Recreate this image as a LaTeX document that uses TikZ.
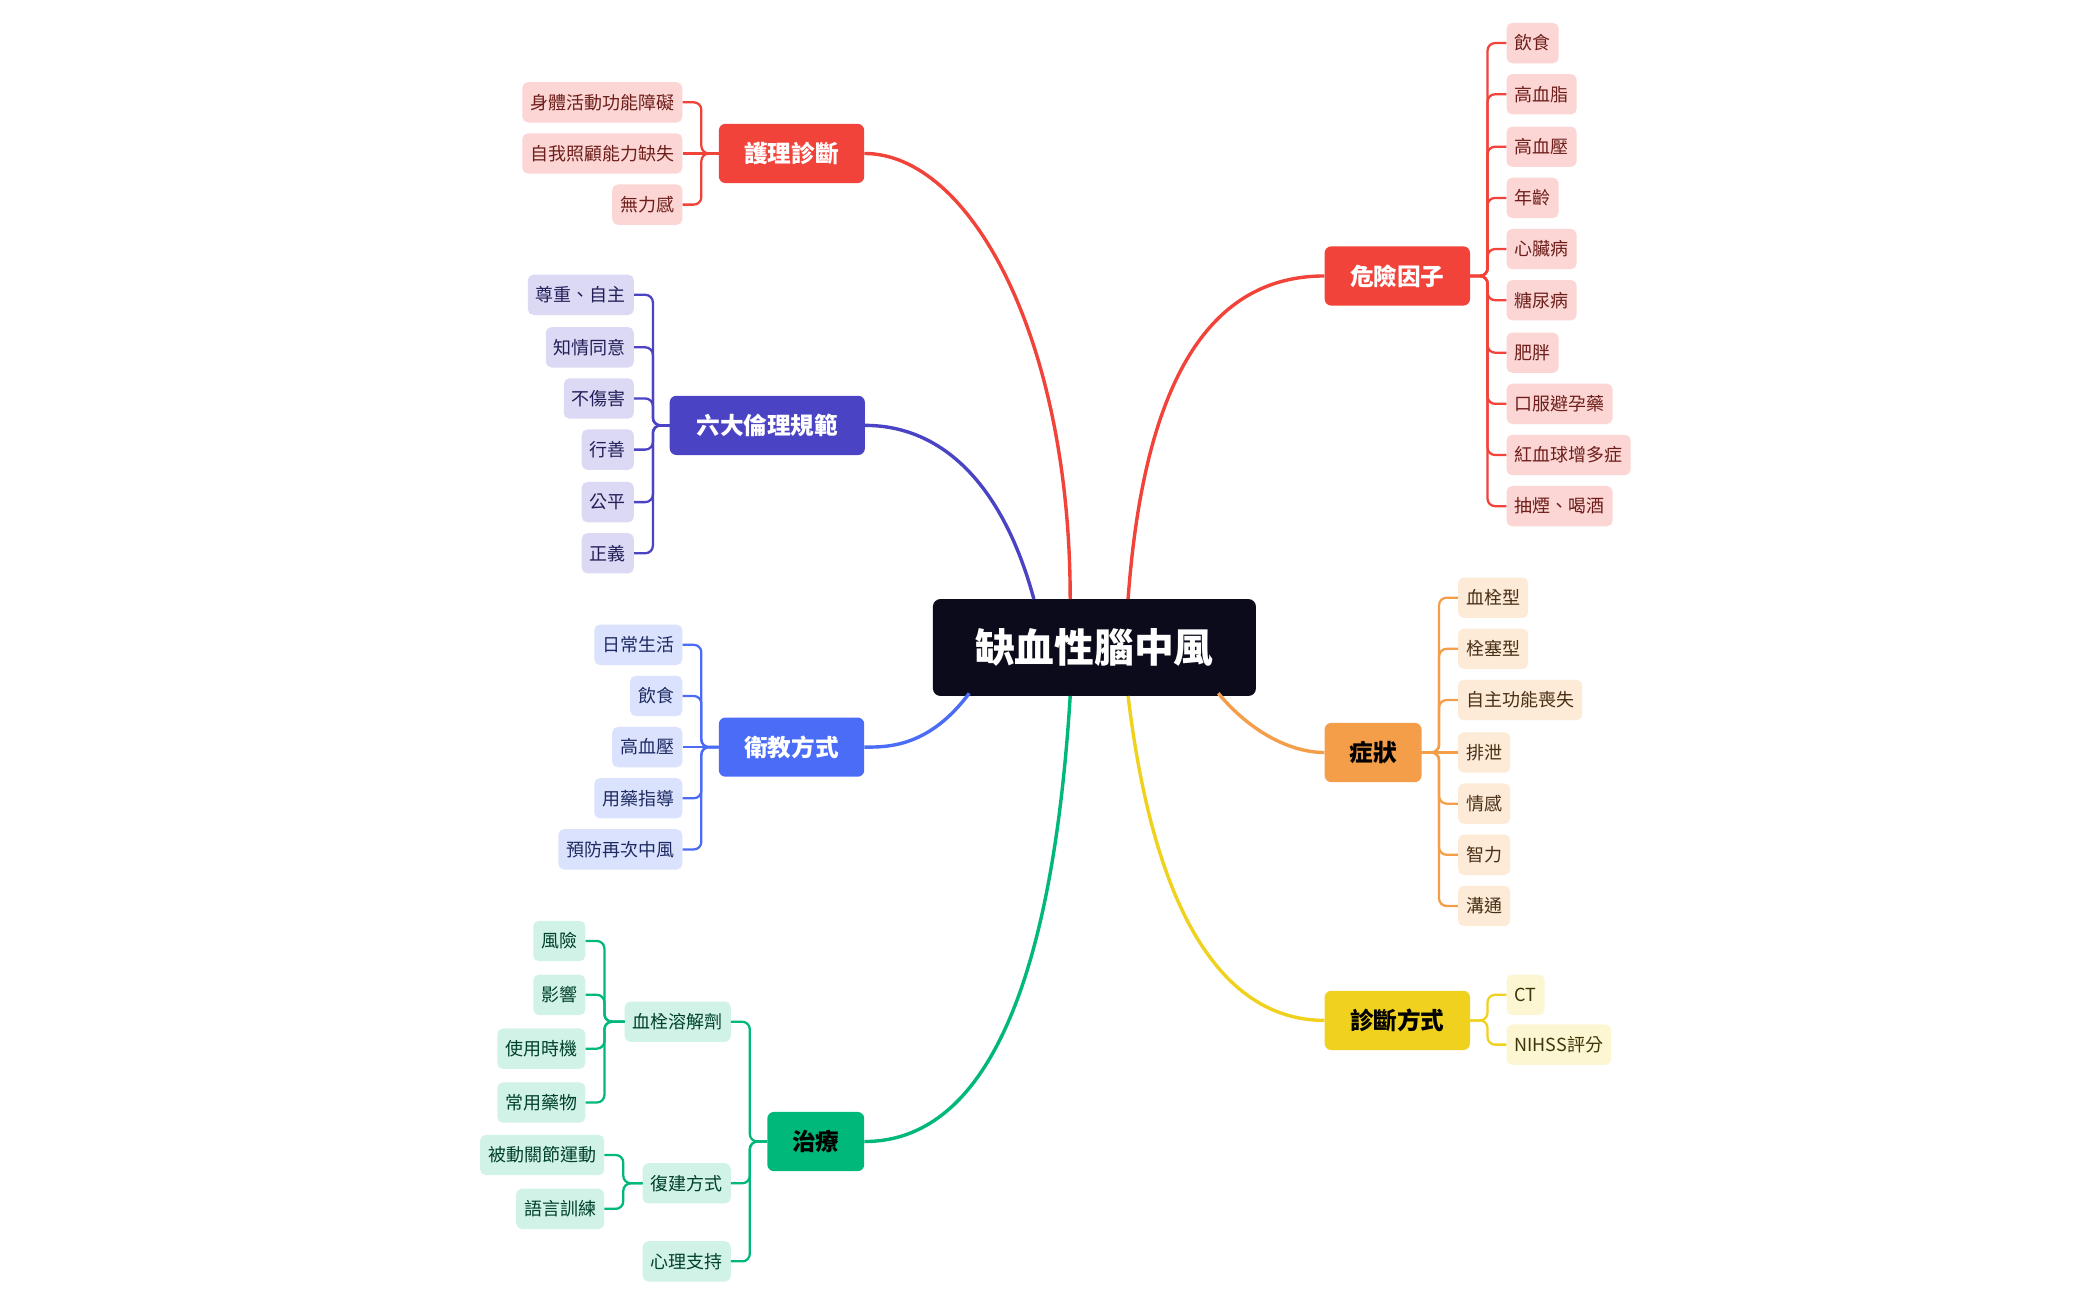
\documentclass[tikz,border=0pt]{standalone}
\usepackage{fontspec}
\newfontfamily\cjk{Noto Sans CJK TC}
\definecolor{cred}{HTML}{F2433A}
\definecolor{cind}{HTML}{4A43C4}
\definecolor{cblu}{HTML}{4A6CF7}
\definecolor{cgrn}{HTML}{00B87A}
\definecolor{cora}{HTML}{F59E4A}
\definecolor{cyel}{HTML}{F0D21E}
\definecolor{croot}{HTML}{0B0B1C}
\tikzset{
  leaf/.style={rounded corners=6pt, minimum height=1.5cm, inner xsep=0.3cm, font=\cjk\fontsize{19}{19}\selectfont},
  branch/.style={rounded corners=7pt, minimum height=2.2cm, inner xsep=0.45cm, font=\cjk\bfseries\fontsize{25}{25}\selectfont, text=white},
  link/.style={line width=2.4pt, rounded corners=8pt},
  bigl/.style={line width=3.6pt},
}
\begin{document}
\begin{tikzpicture}[x=0.05cm,y=-0.05cm]
\useasboundingbox (0,0) rectangle (1560,965);
\fill[white] (0,0) rectangle (1560,965);

\node[fill=croot, text=white, rounded corners=8pt, minimum width=12cm, minimum height=3.6cm,
  font=\cjk\bfseries\fontsize{42}{42}\selectfont] (root) at (813,481) {缺血性腦中風};
\coordinate (rt1) at (795,445);
\coordinate (rt2) at (768,445);
\coordinate (rt3) at (838,445);
\coordinate (rb1) at (720,515);
\coordinate (rb2) at (795,517);
\coordinate (rb3) at (905,515);
\coordinate (rb4) at (838,517);

% branches
\node[branch, fill=cred, minimum width=5.4cm] (nurse) at (588,114) {護理診斷};
\node[branch, fill=cind, minimum width=7.25cm] (ethic) at (570,316) {六大倫理規範};
\node[branch, fill=cblu, minimum width=5.4cm] (educ) at (588,555) {衛教方式};
\node[branch, fill=cgrn, text=black, minimum width=3.6cm] (treat) at (606,848) {治療};
\node[branch, fill=cred, minimum width=5.4cm] (risk) at (1038,205) {危險因子};
\node[branch, fill=cora, text=black, minimum width=3.6cm] (sympt) at (1020,559) {症狀};
\node[branch, fill=cyel, text=black, minimum width=5.4cm] (diag) at (1038,758) {診斷方式};

\draw[bigl, cred] (rt1) .. controls (795,250) and (720,114) .. (nurse.east);
\draw[bigl, cind] (rt2) .. controls (745,360) and (700,316) .. (ethic.east);
\draw[bigl, cblu] (rb1) .. controls (690,555) and (660,555) .. (educ.east);
\draw[bigl, cgrn] (rb2) .. controls (780,760) and (720,848) .. (treat.east);
\draw[bigl, cred] (rt3) .. controls (850,280) and (900,205) .. (risk.west);
\draw[bigl, cora] (rb3) .. controls (930,545) and (960,559) .. (sympt.west);
\draw[bigl, cyel] (rb4) .. controls (860,700) and (920,758) .. (diag.west);

% nursing diagnoses
\tikzset{lr/.style={leaf, fill=cred!22, text=cred!45!black, anchor=east}}
\node[lr] (n1) at (507,76) {身體活動功能障礙};
\node[lr] (n2) at (507,114) {自我照顧能力缺失};
\node[lr] (n3) at (507,152) {無力感};
\draw[link, cred] (nurse.west) -- (521,114) |- (n1.east);
\draw[link, cred] (nurse.west) -- (n2.east);
\draw[link, cred] (nurse.west) -- (521,114) |- (n3.east);

% ethics
\tikzset{li/.style={leaf, fill=cind!20, text=cind!45!black, anchor=east}}
\node[li] (e1) at (471,219) {尊重、自主};
\node[li] (e2) at (471,258) {知情同意};
\node[li] (e3) at (471,296) {不傷害};
\node[li] (e4) at (471,334) {行善};
\node[li] (e5) at (471,373) {公平};
\node[li] (e6) at (471,411) {正義};
\draw[link, cind] (ethic.west) -- (485,316) |- (e1.east);
\draw[link, cind] (ethic.west) -- (485,316) |- (e2.east);
\draw[link, cind] (ethic.west) -- (485,316) |- (e3.east);
\draw[link, cind] (ethic.west) -- (485,316) |- (e4.east);
\draw[link, cind] (ethic.west) -- (485,316) |- (e5.east);
\draw[link, cind] (ethic.west) -- (485,316) |- (e6.east);

% education
\tikzset{lb/.style={leaf, fill=cblu!20, text=cblu!40!black, anchor=east}}
\node[lb] (d1) at (507,479) {日常生活};
\node[lb] (d2) at (507,517) {飲食};
\node[lb] (d3) at (507,555) {高血壓};
\node[lb] (d4) at (507,593) {用藥指導};
\node[lb] (d5) at (507,631) {預防再次中風};
\draw[link, cblu] (educ.west) -- (521,555) |- (d1.east);
\draw[link, cblu] (educ.west) -- (521,555) |- (d2.east);
\draw[link, cblu] (educ.west) -- (d3.east);
\draw[link, cblu] (educ.west) -- (521,555) |- (d4.east);
\draw[link, cblu] (educ.west) -- (521,555) |- (d5.east);

% treatment
\tikzset{lg/.style={leaf, fill=cgrn!18, text=cgrn!35!black, anchor=east}}
\node[lg] (t1) at (543,759) {血栓溶解劑};
\node[lg] (t2) at (543,879) {復建方式};
\node[lg] (t3) at (543,937) {心理支持};
\draw[link, cgrn] (treat.west) -- (557,848) |- (t1.east);
\draw[link, cgrn] (treat.west) -- (557,848) |- (t2.east);
\draw[link, cgrn] (treat.west) -- (557,848) |- (t3.east);
\node[lg] (t11) at (435,699) {風險};
\node[lg] (t12) at (435,739) {影響};
\node[lg] (t13) at (435,779) {使用時機};
\node[lg] (t14) at (435,819) {常用藥物};
\draw[link, cgrn] (t1.west) -- (449,759) |- (t11.east);
\draw[link, cgrn] (t1.west) -- (449,759) |- (t12.east);
\draw[link, cgrn] (t1.west) -- (449,759) |- (t13.east);
\draw[link, cgrn] (t1.west) -- (449,759) |- (t14.east);
\node[lg] (t21) at (449,858) {被動關節運動};
\node[lg] (t22) at (449,898) {語言訓練};
\draw[link, cgrn] (t2.west) -- (463,879) |- (t21.east);
\draw[link, cgrn] (t2.west) -- (463,879) |- (t22.east);

% risk factors
\tikzset{lr2/.style={leaf, fill=cred!22, text=cred!45!black, anchor=west}}
\node[lr2] (r1) at (1119,32) {飲食};
\node[lr2] (r2) at (1119,70) {高血脂};
\node[lr2] (r3) at (1119,109) {高血壓};
\node[lr2] (r4) at (1119,147) {年齡};
\node[lr2] (r5) at (1119,185) {心臟病};
\node[lr2] (r6) at (1119,223) {糖尿病};
\node[lr2] (r7) at (1119,262) {肥胖};
\node[lr2] (r8) at (1119,300) {口服避孕藥};
\node[lr2] (r9) at (1119,338) {紅血球增多症};
\node[lr2] (r10) at (1119,376) {抽煙、喝酒};
\draw[link, cred] (risk.east) -- (1105,205) |- (r1.west);
\draw[link, cred] (risk.east) -- (1105,205) |- (r2.west);
\draw[link, cred] (risk.east) -- (1105,205) |- (r3.west);
\draw[link, cred] (risk.east) -- (1105,205) |- (r4.west);
\draw[link, cred] (risk.east) -- (1105,205) |- (r5.west);
\draw[link, cred] (risk.east) -- (1105,205) |- (r6.west);
\draw[link, cred] (risk.east) -- (1105,205) |- (r7.west);
\draw[link, cred] (risk.east) -- (1105,205) |- (r8.west);
\draw[link, cred] (risk.east) -- (1105,205) |- (r9.west);
\draw[link, cred] (risk.east) -- (1105,205) |- (r10.west);

% symptoms
\tikzset{lo/.style={leaf, fill=cora!22, text=cora!30!black, anchor=west}}
\node[lo] (s1) at (1083,444) {血栓型};
\node[lo] (s2) at (1083,482) {栓塞型};
\node[lo] (s3) at (1083,520) {自主功能喪失};
\node[lo] (s4) at (1083,559) {排泄};
\node[lo] (s5) at (1083,597) {情感};
\node[lo] (s6) at (1083,635) {智力};
\node[lo] (s7) at (1083,673) {溝通};
\draw[link, cora] (sympt.east) -- (1069,559) |- (s1.west);
\draw[link, cora] (sympt.east) -- (1069,559) |- (s2.west);
\draw[link, cora] (sympt.east) -- (1069,559) |- (s3.west);
\draw[link, cora] (sympt.east) -- (s4.west);
\draw[link, cora] (sympt.east) -- (1069,559) |- (s5.west);
\draw[link, cora] (sympt.east) -- (1069,559) |- (s6.west);
\draw[link, cora] (sympt.east) -- (1069,559) |- (s7.west);

% diagnosis
\tikzset{ly/.style={leaf, fill=cyel!20, text=cyel!25!black, anchor=west}}
\node[ly] (g1) at (1119,739) {CT};
\node[ly] (g2) at (1119,776) {NIHSS評分};
\draw[link, cyel] (diag.east) -- (1105,758) |- (g1.west);
\draw[link, cyel] (diag.east) -- (1105,758) |- (g2.west);
\end{tikzpicture}
\end{document}
